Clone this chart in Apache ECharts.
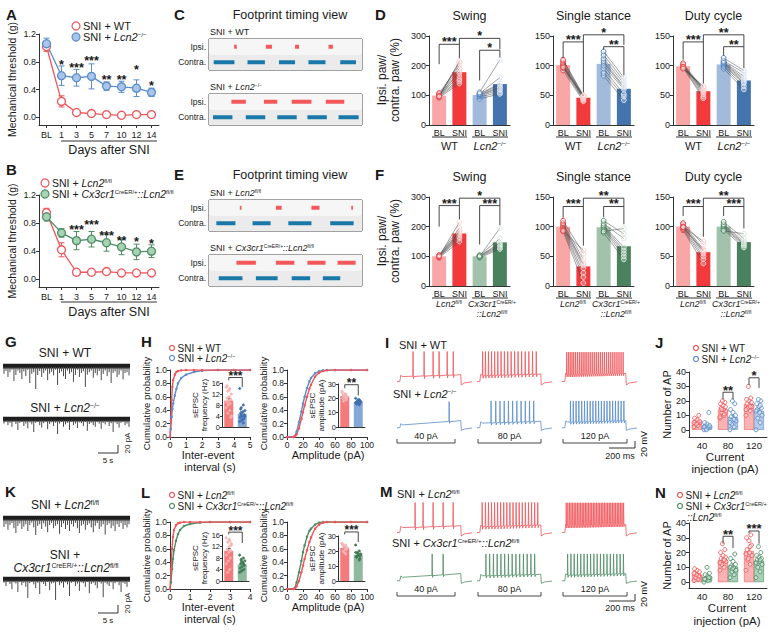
<!DOCTYPE html>
<html><head><meta charset="utf-8"><title>Figure</title>
<script src="https://cdn.jsdelivr.net/npm/echarts@6.0.0/dist/echarts.min.js"></script>
<style>html,body{margin:0;padding:0;background:#fff;}#chart{width:772px;height:635px;}</style>
</head><body><div id="chart"></div>
<script>
// ================= DATA =================
// Panel A / B : mechanical threshold (g)
const daysLabels = ['BL','1','3','5','7','10','12','14'];
const aWTMean = [1.02, 0.23, 0.07, 0.055, 0.04, 0.03, 0.04, 0.04];
const aWTSem  = [0.07, 0.08, 0.012, 0.01, 0.01, 0.01, 0.01, 0.01];
const aKOMean = [1.06, 0.60, 0.57, 0.59, 0.45, 0.44, 0.42, 0.36];
const aKOSem  = [0.08, 0.14, 0.12, 0.18, 0.06, 0.08, 0.12, 0.06];
const aStars  = ['', '*', '***', '***', '**', '**', '*', '*'];
const aStarY  = [0, 0.81, 0.76, 0.87, 0.59, 0.59, 0.74, 0.50];
const bFlMean = [0.95, 0.42, 0.10, 0.10, 0.11, 0.09, 0.09, 0.09];
const bFlSem  = [0.06, 0.10, 0.01, 0.01, 0.01, 0.01, 0.01, 0.01];
const bCxMean = [0.89, 0.66, 0.55, 0.57, 0.52, 0.46, 0.39, 0.40];
const bCxSem  = [0.06, 0.06, 0.13, 0.11, 0.12, 0.11, 0.11, 0.09];
const bStars  = ['', '', '***', '***', '***', '**', '*', '*'];
const bStarY  = [0, 0, 0.75, 0.82, 0.675, 0.60, 0.58, 0.56];

// Panel C / E : footprint timing [start, end] (arbitrary time units)
const cWTIpsi    = [[75,83],[170,188],[257,269],[357,370]];
const cWTContra  = [[14,76],[115,167],[209,257],[297,348],[392,439]];
const cKOIpsi    = [[67,110],[164,204],[247,306],[349,404]];
const cKOContra  = [[12,70],[110,168],[204,262],[294,352],[387,447]];
const eFlIpsi    = [[92,97],[200,217],[306,330],[425,430]];
const eFlContra  = [[22,79],[130,184],[237,306],[362,432]];
const eCxIpsi    = [[82,140],[200,255],[294,348],[384,438]];
const eCxContra  = [[29,100],[140,205],[247,302],[340,392]];

// Panel D / F : gait (% ipsi/contra)
const gaitCats = ['BL','SNI','BL','SNI'];
const dSwingMean  = [99,178,101,138];
const dSwingWTBL  = [92,95,97,99,100,101,104,108,98,96];
const dSwingWTSNI = [140,148,155,165,175,180,190,200,210,215];
const dSwingKOBL  = [88,95,98,100,102,104,105,106,110];
const dSwingKOSNI = [105,110,118,125,128,135,140,160,220];
const dSwingSig   = [[0,1,272,205,225],[1,3,292,272,255],[2,3,252,150,228]];
const dSwingStars = ['***','*','*'];
const dStanceMean  = [101,46,103,61];
const dStanceWTBL  = [92,96,98,100,101,103,105,108,110,97];
const dStanceWTSNI = [40,42,44,45,46,47,48,49,50,49];
const dStanceKOBL  = [83,88,95,100,105,108,112,118,124];
const dStanceKOSNI = [42,48,52,60,63,65,70,75,80];
const dStanceSig   = [[0,1,140,113,55],[1,3,152,140,135],[2,3,132,127,84]];
const dStanceStars = ['***','*','**'];
const dDutyMean  = [99,57,102,75];
const dDutyWTBL  = [96,98,99,100,101,102,104,97,98,95];
const dDutyWTSNI = [45,48,52,55,57,58,60,62,64,65];
const dDutyKOBL  = [95,98,100,102,104,105,106,108,113];
const dDutyKOSNI = [60,65,70,72,75,78,82,88,92];
const dDutySig   = [[0,1,140,110,70],[1,3,152,140,132],[2,3,132,117,96]];
const dDutyStars = ['***','**','**'];
const fSwingMean  = [100,177,100,147];
const fSwingFlBL  = [95,97,98,100,101,102,103,104,100];
const fSwingFlSNI = [150,160,165,170,175,180,185,195,215];
const fSwingCxBL  = [95,98,100,101,102,104,100];
const fSwingCxSNI = [125,130,135,140,145,160,195];
const fSwingSig   = [[0,1,271,200,225],[1,3,296,271,271],[2,3,271,140,205]];
const fSwingStars = ['***','*','***'];
const fStanceMean  = [100,33,99,67];
const fStanceFlBL  = [92,95,98,100,102,104,106,110,93];
const fStanceFlSNI = [5,15,22,30,35,38,45,55,60];
const fStanceCxBL  = [90,95,98,100,102,105,110,92];
const fStanceCxSNI = [45,50,55,60,65,80,88,97];
const fStanceSig   = [[0,1,134,115,68],[1,3,148,134,134],[2,3,134,116,104]];
const fStanceStars = ['***','**','**'];
const fDutyMean  = [100,57,100,74];
const fDutyFlBL  = [94,96,98,100,102,104,106,100,99];
const fDutyFlSNI = [38,45,50,55,58,62,70,75,60];
const fDutyCxBL  = [95,98,100,102,104,108,93];
const fDutyCxSNI = [65,68,70,72,75,80,88];
const fDutySig   = [[0,1,134,118,83],[1,3,148,134,134],[2,3,134,118,97]];
const fDutyStars = ['***','**','***'];

// Panel G / K : sEPSC event amplitudes (pA)
const gWTEvents = [22,15,30,18,12,40,25,14,20,35,16,28,12,45,22,18,60,25,15,30,20,14,38,22,17,26,12,50,20,16,28,35,14,22,18,42,25,12,30,20,16,55,24,18,14,32,20,26,15,38,22,14,28,18,45,20,16,30,24,14,36,20,18,26];
const gKOEvents = [14,10,18,12,22,9,15,30,12,10,20,14,26,11,16,35,12,10,18,24,13,9,28,15,11,20,12,40,14,10,22,16,12,30,10,18,14,25,11,13,20,10,32,15,12,18,22,10,14,27,12,16,10,20,13,35,11,15,24,12,10,18,14,22];
const kFlEvents = [25,18,32,20,15,28,40,22,16,30,24,18,35,20,14,26,45,22,18,30,16,24,38,20,15,28,22,18,42,25,16,30,20,35,18,24,15,28,40,22,18,32,20,16,26,38,22,15,30,24,18,44,20,16,28,22,35,18,25,15,30,20,26,18];
const kCxEvents = [12,20,10,15,28,11,14,35,10,18,12,22,50,13,10,16,25,12,40,11,15,20,10,30,14,12,55,10,18,13,24,11,16,45,12,10,20,14,32,11,13,22,10,38,15,12,18,26,10,14,48,12,16,20,11,28,13,10,18,35,12,15,22,10];

// Panel H / L : cumulative distributions and insets
const hIeiX  = [0,0.05,0.1,0.15,0.2,0.3,0.4,0.5,0.7,1,1.5,2,3,4,5];
const hIeiWT = [0,0.25,0.55,0.75,0.85,0.93,0.97,0.985,0.995,1,1,1,1,1,1];
const hIeiKO = [0,0.12,0.3,0.42,0.5,0.62,0.72,0.8,0.88,0.93,0.97,0.99,1,1,1];
const ampX   = [0,8,10,12,15,18,20,22,25,28,30,35,40,45,50,60,80,100];
const hAmpWT = [0,0,0.01,0.04,0.13,0.27,0.37,0.47,0.6,0.72,0.78,0.9,0.96,0.985,0.995,1,1,1];
const hAmpKO = [0,0,0.02,0.08,0.22,0.38,0.5,0.6,0.73,0.83,0.88,0.95,0.98,0.995,1,1,1,1];
const lIeiX  = [0,0.05,0.1,0.15,0.2,0.3,0.4,0.5,0.7,1,1.5,2,3,4];
const lIeiFl = [0,0.3,0.6,0.78,0.88,0.95,0.98,0.99,1,1,1,1,1,1];
const lIeiCx = [0,0.1,0.3,0.45,0.58,0.72,0.82,0.88,0.94,0.97,0.99,1,1,1];
const lAmpFl = [0,0,0.01,0.04,0.12,0.25,0.35,0.45,0.58,0.7,0.77,0.9,0.96,0.99,1,1,1,1];
const lAmpCx = [0,0,0.02,0.1,0.25,0.42,0.55,0.65,0.78,0.87,0.9,0.96,0.99,1,1,1,1,1];
const hFreqMean = [9.6,4.8], hFreqSem = [0.8,0.7];
const hFreqWT = [14.5,14,13,12,11,10.5,10,9.5,9,8.5,8,7,6,5,4,13.5,15,3.5];
const hFreqKO = [14,8,7,6,5.5,5,4.5,4,3.5,3,2.5,2,1.5,4.2,3.8,2.8,6.5];
const hAmpMean = [21.5,17.5], hAmpSem = [0.6,0.4];
const hAmpWTPts = [25,23,22,21,20,22,21,23,20,19,22,24,21,18];
const hAmpKOPts = [20,19,18,17.5,17,16,18,19,17,16.5,18,17,15.5];
const lFreqMean = [10.5,5.8], lFreqSem = [0.8,0.5];
const lFreqFl = [15,14,13.5,13,12,11,10.5,10,9,8,7,6,4,3,12.5,14.5];
const lFreqCx = [9,8,7.5,7,6.5,6,5.5,5,4.5,4,3.5,3,6,7];
const lAmpMean = [22,17.5], lAmpSem = [0.6,0.5];
const lAmpFlPts = [25,24,23,22,21,20,22,23,24,21,19,25,18];
const lAmpCxPts = [24,20,19,18,17,16,17,18,16,15,17,19,14];

// Panel I / M : action-potential traces (spike times, ms) and voltage levels (mV)
const apTimeMs = [0, 30, 680, 800];           // trace start, step on, step off, trace end
const apSteps = ['40 pA','80 pA','120 pA'];
const iWTSpikes = [[171,289,385,449,535,600],
  [60,90,122,155,188,222,257,292,328,364,401,438,476,514,553,592,632],
  [50,68,87,106,125,145,165,185,205,225,245,265,286,307,328,349,370,391,412,433,454,476,498,520,542,564,586,608,630,652]];
const iKOSpikes = [[556],
  [150,200,245,290,335,380,425,470,515,560,605],
  [90,120,150,180,210,240,270,300,330,360,390,420,450,480,510,540,570,600,630,660]];
const mFlSpikes = [[193,278,385,492,599],
  [55,90,122,155,187,220,252,285,318,351,384,417,450,483,516,549,582,615,648],
  [45,62,79,96,113,130,147,164,181,198,215,232,249,266,283,300,317,334,351,368,385,402,419,436,453,470,487,504,521,538,555,572,589,606,623,640,657]];
const mCxSpikes = [[375,492],
  [95,135,175,215,255,295,335,375,415,455,495,535,575,615],
  [60,95,130,165,200,235,270,305,340,375,410,445,480,515,550,585,620,655]];
// [rest, plateau start, plateau end, peak, AHP (rel.), post-step]
const iWTLevels = [[-72,-58,-52,15,-8,-82],[-72,-55,-50,15,-8,-82],[-72,-52,-48,13,-7,-82]];
const iKOLevels = [[-72,-64,-50,8,-6,-80],[-72,-58,-52,10,-7,-80],[-72,-55,-50,10,-7,-80]];
const mFlLevels = [[-72,-58,-52,15,-8,-82],[-72,-55,-50,15,-8,-82],[-72,-52,-48,14,-7,-82]];
const mCxLevels = [[-72,-62,-50,10,-6,-80],[-72,-57,-52,10,-7,-80],[-72,-55,-50,10,-7,-80]];

// Panel J / N : number of AP
const apCurrents = ['40','80','120'];
const jWTMean = [5.4,14,17.8], jWTSem = [0.6,0.9,1.2];
const jKOMean = [3,8.8,13],    jKOSem = [0.7,1.3,1.3];
const jWTPts = [[2,3,4,5,5,6,6,7,8,10,4,5],[8,10,12,13,14,15,16,17,18,19,20,9,11,14],[10,13,15,16,17,18,19,20,21,22,30,14,16]];
const jKOPts = [[0,1,1,2,2,3,3,4,5,12,0,2],[0,2,4,6,8,9,10,12,14,18,20,5,7],[0,5,8,10,12,14,15,16,18,20,21,13,17]];
const jSig = [[1,1,26,21,21],[2,2,36,31,29]], jStars = ['**','*'];
const nFlMean = [5,15,21],   nFlSem = [0.7,1.0,1.6];
const nCxMean = [3.5,10.5,14.5], nCxSem = [0.6,0.9,1.1];
const nFlPts = [[1,2,3,4,5,6,7,8,9,4,5,6],[8,10,12,14,15,16,17,18,20,22,26,13,15],[8,12,15,18,20,22,25,28,30,32,16,19,24]];
const nCxPts = [[0,1,2,3,4,5,6,10,2,3],[3,5,7,8,10,11,12,14,16,19,9,10],[3,7,10,12,14,15,16,17,18,20,24,13,15]];
const nSig = [[1,1,31,26,23],[2,2,34.6,33,26]], nStars = ['**','***'];

// ================= BUILD =================
const FONT = '"Liberation Sans", Arial, Helvetica, sans-serif';
const INK = '#1a1a1a';
const COL = {
  red:'#f0555a', blue:'#5a8dca', blueFill:'#a9c6ea', green:'#4f8d66', greenFill:'#a6d3b4',
  redBarBL:'#f8a6a6', redBarSNI:'#f2393c', blueBarBL:'#a3bbdb', blueBarSNI:'#4374ad',
  greenBarBL:'#a2c2ac', greenBarSNI:'#4a815f', fpRed:'#f4585a', fpBlue:'#1a78a8'
};
const grids=[], xAxes=[], yAxes=[], series=[], graphics=[];

function addGrid(left,top,width,height,box){
  grids.push(box?{left,top,width,height,show:true,borderColor:'#444',borderWidth:1,backgroundColor:'#fff'}:{left,top,width,height});
  return grids.length-1;
}
function R(sz){ const s=Math.round(sz*0.56*10)/10; return {
  i:{fontSize:sz,fontFamily:FONT,fontStyle:'italic'},
  s:{fontSize:s,fontFamily:FONT,verticalAlign:'top'},
  n:{fontSize:sz,fontFamily:FONT}
};}
function T(x,y,text,sz,o={}){
  const al=o.align||'left', va=o.va||'middle';
  const st={text, fill:o.color||INK, fontSize:sz, fontFamily:FONT, fontWeight:o.bold?'bold':'normal',
    fontStyle:o.italic?'italic':'normal', align:al, verticalAlign:va, textAlign:al, textVerticalAlign:va, rich:R(sz)};
  if(o.lh) st.lineHeight=o.lh;
  graphics.push({type:'text', x, y, rotation:o.rot||0, z:100, silent:true, style:st});
}
function Ln(x1,y1,x2,y2,c,w){ graphics.push({type:'line', silent:true, z:100, shape:{x1,y1,x2,y2}, style:{stroke:c||'#333', lineWidth:w||1}}); }
function Pl(points,c,w){ graphics.push({type:'polyline', silent:true, z:100, shape:{points}, style:{stroke:c||'#333', lineWidth:w||1, fill:null}}); }
function legendItem(cx,cy,r,stroke,fill,text,sz){
  graphics.push({type:'circle', silent:true, z:100, shape:{cx,cy,r}, style:{stroke, fill, lineWidth:1.2}});
  T(cx+r+3, cy, text, sz);
}
function catAxis(g,data,o={}){ return {gridIndex:g, type:'category', data, boundaryGap:true,
  axisLine:{show:o.line!==false, onZero:false, lineStyle:{color:'#333',width:1}},
  axisTick:{show:!!o.tick, alignWithLabel:true, interval:0, length:3, lineStyle:{color:'#333'}},
  axisLabel:{show:o.labels!==false, interval:0, hideOverlap:false, fontSize:o.fs||9, fontFamily:FONT, color:INK, margin:o.margin||4},
  splitLine:{show:false}, splitArea:{show:false}}; }
function valAxis(g,min,max,o={}){
  const ax={gridIndex:g, type:'value', min, max,
    axisLine:{show:true, onZero:false, lineStyle:{color:'#333',width:1}},
    axisTick:{show:true, length:o.tl||3, lineStyle:{color:'#333'}},
    axisLabel:{fontSize:o.fs||9, fontFamily:FONT, color:INK, margin:o.margin||3},
    splitLine:{show:false}};
  if(o.interval!=null) ax.interval=o.interval;
  if(o.custom){ ax.axisLabel.customValues=o.custom; ax.axisTick.customValues=o.custom; }
  if(o.fmt) ax.axisLabel.formatter=o.fmt;
  if(o.name){ ax.name=o.name; ax.nameLocation='middle'; ax.nameGap=o.nameGap; ax.nameTextStyle={fontSize:o.nfs||10, fontFamily:FONT, color:INK}; }
  return ax;
}
function hiddenAxes(g,xmin,xmax,ymin,ymax){
  xAxes.push({gridIndex:g,type:'value',min:xmin,max:xmax,show:false});
  yAxes.push({gridIndex:g,type:'value',min:ymin,max:ymax,show:false});
}
function txtStyle(text,size,bold,al,va){ return {text, fontSize:size, fontWeight:bold?'bold':'normal', fontFamily:FONT, fill:INK, align:al, verticalAlign:va, textAlign:al, textVerticalAlign:va}; }

function errSeries(g,means,sems,color,dx=0,cap=3,lw=1,upper=false){
  return {type:'custom', xAxisIndex:g, yAxisIndex:g, z:3, silent:true,
    data:means.map((m,i)=>[i, upper?m:m-sems[i], m+sems[i]]), encode:{x:0,y:[1,2]},
    renderItem:(p,api)=>{ const a=api.coord([api.value(0),api.value(1)]), b=api.coord([api.value(0),api.value(2)]); const x=a[0]+dx;
      return {type:'group', children:[
        {type:'line', shape:{x1:x,y1:a[1],x2:x,y2:b[1]}, style:{stroke:color,lineWidth:lw}},
        {type:'line', shape:{x1:x-cap,y1:a[1],x2:x+cap,y2:a[1]}, style:{stroke:upper?'transparent':color,lineWidth:lw}},
        {type:'line', shape:{x1:x-cap,y1:b[1],x2:x+cap,y2:b[1]}, style:{stroke:color,lineWidth:lw}}]}; }};
}
function lineSeries(g,vals,color,fill){ return {type:'line', xAxisIndex:g, yAxisIndex:g, data:vals, symbol:'circle', symbolSize:8, z:5, silent:true,
  itemStyle:{color:fill, borderColor:color, borderWidth:1.3}, lineStyle:{color, width:1.3}}; }
function textSeries(g,pts,texts,size){ return {type:'custom', xAxisIndex:g, yAxisIndex:g, z:6, silent:true, data:pts, encode:{x:0,y:1},
  renderItem:(p,api)=>{ const c=api.coord([api.value(0),api.value(1)]); return {type:'text', x:c[0], y:c[1]+size*0.3, style:txtStyle(texts[p.dataIndex],size,true,'center','middle')}; }}; }
function bracketSeries(g,sig,stars,dxL=0,dxR=0,size=12){
  return {type:'custom', xAxisIndex:g, yAxisIndex:g, z:6, silent:true, data:sig, encode:{x:[0,1],y:[2,3,4]},
    renderItem:(p,api)=>{ const i=api.value(0), j=api.value(1), top=api.value(2);
      const a=api.coord([i,api.value(3)]), b=api.coord([i,top]), d=api.coord([j,api.value(4)]);
      const xl=a[0]+dxL, xr=d[0]+dxR;
      return {type:'group', children:[
        {type:'polyline', shape:{points:[[xl,a[1]],[xl,b[1]],[xr,b[1]],[xr,d[1]]]}, style:{stroke:'#333',lineWidth:0.9,fill:null}},
        {type:'text', x:(xl+xr)/2, y:b[1]+4.5, style:txtStyle(stars[p.dataIndex],size,true,'center','bottom')}]}; }};
}
function pairSeries(g,x0,bl,sni,cBL,cSNI){
  return {type:'custom', xAxisIndex:g, yAxisIndex:g, z:4, silent:true, data:bl.map((v,k)=>[x0,v,sni[k]]), encode:{x:0,y:[1,2]},
    renderItem:(p,api)=>{ const x=api.value(0); const a=api.coord([x,api.value(1)]), b=api.coord([x+1,api.value(2)]);
      return {type:'group', children:[
        {type:'line', shape:{x1:a[0],y1:a[1],x2:b[0],y2:b[1]}, style:{stroke:'#444',lineWidth:0.5}},
        {type:'circle', shape:{cx:a[0],cy:a[1],r:2.4}, style:{stroke:cBL,fill:'rgba(255,255,255,0.5)',lineWidth:1}},
        {type:'circle', shape:{cx:b[0],cy:b[1],r:2.4}, style:{stroke:cSNI,fill:'rgba(255,255,255,0.25)',lineWidth:1}}]}; }};
}
function dotSeries(g,cat,vals,stroke,fill,dx,spread,r){
  return {type:'custom', xAxisIndex:g, yAxisIndex:g, z:4, silent:true, data:vals.map(v=>[cat,v]), encode:{x:0,y:1},
    renderItem:(p,api)=>{ const c=api.coord([api.value(0),api.value(1)]); const k=p.dataIndex; const j=((((k*7)%11)/10)-0.5)*2*spread;
      return {type:'circle', shape:{cx:c[0]+dx+j, cy:c[1], r}, style:{stroke, fill, lineWidth:0.9}}; }};
}
function fpSeries(g,row,segs,color,h){
  return {type:'custom', xAxisIndex:g, yAxisIndex:g, z:3, silent:true, data:segs.map(s=>[s[0],s[1],row]), encode:{x:[0,1],y:2},
    renderItem:(p,api)=>{ const a=api.coord([api.value(0),api.value(2)]), b=api.coord([api.value(1),api.value(2)]);
      return {type:'rect', shape:{x:a[0], y:a[1]-h/2, width:Math.max(1.5,b[0]-a[0]), height:h}, style:{fill:color}}; }};
}
function epscTrace(top, amps){
  const g=addGrid(3, top, 127, 34);
  hiddenAxes(g, -0.5, amps.length-0.5, -75, 10);
  series.push({type:'custom', xAxisIndex:g, yAxisIndex:g, z:2, silent:true, data:[[0, amps.length-1, 0]], encode:{x:[0,1],y:2},
    renderItem:(p,api)=>{ const a=api.coord([api.value(0)-0.5, 3]), b=api.coord([api.value(1)+0.5, -9]);
      return {type:'rect', shape:{x:a[0], y:a[1], width:b[0]-a[0], height:b[1]-a[1]}, style:{fill:'#1e1e1e'}}; }});
  series.push({type:'custom', xAxisIndex:g, yAxisIndex:g, z:3, silent:true, data:amps.map((a,i)=>[i,-a]), encode:{x:0,y:1},
    renderItem:(p,api)=>{ const a=api.coord([api.value(0),-5]), b=api.coord([api.value(0),api.value(1)]);
      return {type:'line', shape:{x1:a[0],y1:a[1],x2:b[0],y2:b[1]}, style:{stroke:'#4a4a4a',lineWidth:1}}; }});
}
function apSeries(g,spikes,lv,color){
  return {type:'custom', xAxisIndex:g, yAxisIndex:g, z:3, silent:true, data:[[apTimeMs[0], lv[0]]], encode:{x:0,y:1},
    renderItem:(p,api)=>{ const [t0,on,off,t1]=apTimeMs; const [rest,vs,ve,peak,ahp,post]=lv;
      const plat=t=>vs+(ve-vs)*(t-on)/(off-on);
      const first=spikes.length?spikes[0]-3:off;
      const pts=[[t0,rest],[on,rest]];
      if(on+10<first) pts.push([on+10,plat(on+10)+4]);
      if(on+30<first) pts.push([on+30,plat(on+30)]);
      spikes.forEach(t=>{ pts.push([t-3,plat(t-3)],[t,peak],[t+4,plat(t)+ahp],[t+9,plat(t+9)-1]); });
      pts.push([off,ve],[off+6,post],[off+40,rest-4],[t1,rest-1]);
      return {type:'polyline', shape:{points:pts.map(q=>api.coord(q))}, style:{stroke:color,lineWidth:0.8,fill:null}}; }};
}

// ---- Panel letters ----
[['A',6,7],['B',6,162],['C',174,7],['D',375,7],['E',174,167],['F',375,167],['G',5,334],['H',141,334],
 ['I',385,335],['J',655,335],['K',5,484],['L',141,485],['M',380,484],['N',655,485]].forEach(([t,x,y])=>T(x,y,t,15,{bold:true,va:'top'}));

// ---- A / B ----
function timePanel(top,height,m1,s1,m2,s2,stars,starY,c2,f2){
  const g=addGrid(39, top, 120, height);
  xAxes.push(catAxis(g, daysLabels, {tick:true, fs:9, margin:5}));
  yAxes.push(valAxis(g, -0.11, 1.2, {custom:[0,0.4,0.8,1.2], fmt:v=>v.toFixed(1), name:'Mechanical threshold (g)', nameGap:22, nfs:10.5}));
  series.push(errSeries(g,m1,s1,COL.red), errSeries(g,m2,s2,c2), lineSeries(g,m1,COL.red,'#fff'), lineSeries(g,m2,c2,f2),
    textSeries(g, starY.map((y,i)=>[i, y]), stars, 12.5));
}
timePanel(34, 91, aWTMean, aWTSem, aKOMean, aKOSem, aStars, aStarY, COL.blue, COL.blueFill);
Ln(61,141,157,141); T(109,150,'Days after SNI',12.5,{align:'center'});
legendItem(76,26,4,COL.red,'#fff','SNI + WT',11);
legendItem(76,37,4,COL.blue,COL.blueFill,'SNI + {i|Lcn2}{s|−/−}',11);
timePanel(195, 92, bFlMean, bFlSem, bCxMean, bCxSem, bStars, bStarY, COL.green, COL.greenFill);
Ln(61,302,157,302); T(109,312,'Days after SNI',12.5,{align:'center'});
legendItem(45,183,4,COL.red,'#fff','SNI + {i|Lcn2}{s|fl/fl}',10.5);
legendItem(45,194,4,COL.green,COL.greenFill,'SNI + {i|Cx3cr1}{s|CreER/+}{i|::Lcn2}{s|fl/fl}',10.5);

// ---- C / E ----
function footBox(top, ipsi, contra){
  const g=addGrid(209, top, 153, 31, true);
  xAxes.push({gridIndex:g, type:'value', min:0, max:457, show:false});
  yAxes.push({gridIndex:g, type:'category', data:['Contra.','Ipsi.'], axisLine:{show:false}, axisTick:{show:false},
    axisLabel:{fontSize:8.5, fontFamily:FONT, color:INK, margin:3}, splitLine:{show:false},
    splitArea:{show:true, areaStyle:{color:['#ebebeb','#f6f6f6']}}});
  series.push(fpSeries(g,1,ipsi,COL.fpRed,4), fpSeries(g,0,contra,COL.fpBlue,4));
}
T(290,15,'Footprint timing view',12.5,{align:'center'});
T(210,32,'SNI + WT',9); footBox(39, cWTIpsi, cWTContra);
T(210,87,'SNI + {i|Lcn2}{s|−/−}',9); footBox(94, cKOIpsi, cKOContra);
T(290,175,'Footprint timing view',12.5,{align:'center'});
T(210,193,'SNI + {i|Lcn2}{s|fl/fl}',9); footBox(200, eFlIpsi, eFlContra);
T(210,248,'SNI + {i|Cx3cr1}{s|CreER/+}{i|::Lcn2}{s|fl/fl}',9); footBox(255, eCxIpsi, eCxContra);

// ---- D / F ----
function gaitPanel(left,top,max,interval,means,barCols,ptCols,groups,sig,stars,title,titleY){
  const g=addGrid(left, top, 81, 89);
  xAxes.push(catAxis(g, gaitCats, {fs:9, margin:3}));
  yAxes.push(valAxis(g, 0, max, {interval, fs:9}));
  series.push({type:'bar', xAxisIndex:g, yAxisIndex:g, barWidth:14, z:2, silent:true,
    data:means.map((v,i)=>({value:v, itemStyle:{color:barCols[i]}}))});
  series.push(pairSeries(g,0,groups[0],groups[1],ptCols[0],ptCols[1]));
  series.push(pairSeries(g,2,groups[2],groups[3],ptCols[2],ptCols[3]));
  series.push(bracketSeries(g,sig,stars,0,0,12.5));
  T(left+40.5,titleY,title,12.5,{align:'center'});
}
const dBar=[COL.redBarBL,COL.redBarSNI,COL.blueBarBL,COL.blueBarSNI], dPt=['#e8474a','#ffd0d0','#4f84c4','#dbe7f7'];
const fBar=[COL.redBarBL,COL.redBarSNI,COL.greenBarBL,COL.greenBarSNI], fPt=['#e8474a','#ffd0d0','#4a8a60','#d7eadd'];
const gaitLefts=[429,553,673];
gaitPanel(429,36,300,100,dSwingMean,dBar,dPt,[dSwingWTBL,dSwingWTSNI,dSwingKOBL,dSwingKOSNI],dSwingSig,dSwingStars,'Swing',16);
gaitPanel(553,36,150,50,dStanceMean,dBar,dPt,[dStanceWTBL,dStanceWTSNI,dStanceKOBL,dStanceKOSNI],dStanceSig,dStanceStars,'Single stance',16);
gaitPanel(673,36,150,50,dDutyMean,dBar,dPt,[dDutyWTBL,dDutyWTSNI,dDutyKOBL,dDutyKOSNI],dDutySig,dDutyStars,'Duty cycle',16);
gaitPanel(429,197,300,100,fSwingMean,fBar,fPt,[fSwingFlBL,fSwingFlSNI,fSwingCxBL,fSwingCxSNI],fSwingSig,fSwingStars,'Swing',177);
gaitPanel(553,197,150,50,fStanceMean,fBar,fPt,[fStanceFlBL,fStanceFlSNI,fStanceCxBL,fStanceCxSNI],fStanceSig,fStanceStars,'Single stance',177);
gaitPanel(673,197,150,50,fDutyMean,fBar,fPt,[fDutyFlBL,fDutyFlSNI,fDutyCxBL,fDutyCxSNI],fDutySig,fDutyStars,'Duty cycle',177);
gaitLefts.forEach(l=>{
  Ln(l+3,137,l+38,137); T(l+20.5,146,'WT',11,{align:'center'});
  Ln(l+43,137,l+79,137); T(l+61,146,'{i|Lcn2}{s|−/−}',11,{align:'center'});
  Ln(l+3,298,l+38,298); T(l+20,304,'{i|Lcn2}{s|fl/fl}',9,{align:'center'});
  Ln(l+43,298,l+79,298); T(l+63,304,'{i|Cx3cr1}{s|CreER/+}',9,{align:'center'}); T(l+63,314,'{i|::Lcn2}{s|fl/fl}',9,{align:'center'});
});
T(388,80,'Ipsi. paw/\ncontra. paw (%)',12,{rot:Math.PI/2,align:'center',lh:13});
T(388,241,'Ipsi. paw/\ncontra. paw (%)',12,{rot:Math.PI/2,align:'center',lh:13});

// ---- G / K ----
T(65,353,'SNI + WT',12,{align:'center'}); epscTrace(361, gWTEvents);
T(65,408,'SNI + {i|Lcn2}{s|−/−}',12,{align:'center'}); epscTrace(414, gKOEvents);
T(65,505,'SNI + {i|Lcn2}{s|fl/fl}',12,{align:'center'}); epscTrace(513, kFlEvents);
T(65,555,'SNI +',12,{align:'center'}); T(66,568,'{i|Cx3cr1}{s|CreER/+}{i|::Lcn2}{s|fl/fl}',12,{align:'center'}); epscTrace(574, kCxEvents);
[[453],[613]].forEach(([y])=>{ Pl([[98,y],[118,y],[118,y-8]],'#333',1); T(108,y+7,'5 s',8,{align:'center'}); T(127,y-10,'20 pA',8,{rot:Math.PI/2,align:'center'}); });

// ---- H / L ----
function cdfLine(g,xs,ys,color){ return {type:'line', xAxisIndex:g, yAxisIndex:g, silent:true, z:3, data:xs.map((x,i)=>[x,ys[i]]),
  symbol:'circle', symbolSize:2.5, showSymbol:true, itemStyle:{color}, lineStyle:{color,width:1.4}}; }
function cdfPanel(left,top,xmax,xInt,xs,yA,yB,cA,cB){
  const g=addGrid(left, top, 80, 67);
  xAxes.push(valAxis(g, 0, xmax, {interval:xInt, fs:8.5}));
  yAxes.push(valAxis(g, 0, 1, {interval:0.2, fs:8.5, fmt:v=>v.toFixed(1), name:'Cumulative probability', nameGap:19, nfs:9.5}));
  series.push(cdfLine(g,xs,yB,cB), cdfLine(g,xs,yA,cA));
}
function insetPanel(left,top,width,height,max,interval,means,sems,ptsA,ptsB,cols,sig,stars,nameText,nameX){
  const g=addGrid(left, top, width, height);
  xAxes.push(catAxis(g, ['a','b'], {labels:false}));
  yAxes.push(valAxis(g, 0, max, {interval, fs:7.5, tl:2, margin:2}));
  series.push({type:'bar', xAxisIndex:g, yAxisIndex:g, barWidth:9, z:2, silent:true, data:means.map((v,i)=>({value:v, itemStyle:{color:cols[i][0]}}))});
  series.push(errSeries(g,means,sems,'#333',0,2,0.8,true));
  series.push(dotSeries(g,0,ptsA,cols[0][1],cols[0][1],0,2.6,1.1), dotSeries(g,1,ptsB,cols[1][1],cols[1][1],0,2.6,1.1));
  series.push(bracketSeries(g,sig,stars,0,0,12));
  T(nameX, top+height/2, nameText, 8, {rot:Math.PI/2, align:'center', lh:9.5});
}
const inRed=['#f47a7c','#f7b3b4'], inBlue=['#85a8d6','#3e6fb0'], inGreen=['#8fb89c','#3f7d55'];
cdfPanel(170,370,5,1,hIeiX,hIeiWT,hIeiKO,COL.red,COL.blue);
insetPanel(222,383,27,44,16,4,hFreqMean,hFreqSem,hFreqWT,hFreqKO,[inRed,inBlue],[[0,1,18,17,14.5]],['***'],'sEPSC\nfrequency (Hz)',200);
cdfPanel(287,370,100,20,ampX,hAmpWT,hAmpKO,COL.red,COL.blue);
insetPanel(338,384,27,43,30,10,hAmpMean,hAmpSem,hAmpWTPts,hAmpKOPts,[inRed,inBlue],[[0,1,29.5,27,22]],['**'],'sEPSC\namplitude (pA)',317);
T(208,455,'Inter-event',11,{align:'center'}); T(210,467,'interval (s)',11,{align:'center'}); T(328,455,'Amplitude (pA)',11,{align:'center'});
legendItem(172,348,2.5,COL.red,'#fff','SNI + WT',10);
legendItem(172,358,2.5,COL.blue,'#fff','SNI + {i|Lcn2}{s|−/−}',10);
cdfPanel(170,522,4,1,lIeiX,lIeiFl,lIeiCx,COL.red,COL.green);
insetPanel(222,535,27,46,16,4,lFreqMean,lFreqSem,lFreqFl,lFreqCx,[inRed,inGreen],[[0,1,17,16.2,13.2]],['***'],'sEPSC\nfrequency (Hz)',200);
cdfPanel(287,522,100,20,ampX,lAmpFl,lAmpCx,COL.red,COL.green);
insetPanel(338,536,27,45,30,10,lAmpMean,lAmpSem,lAmpFlPts,lAmpCxPts,[inRed,inGreen],[[0,1,32.7,31,26]],['***'],'sEPSC\namplitude (pA)',317);
T(208,607,'Inter-event',11,{align:'center'}); T(210,619,'interval (s)',11,{align:'center'}); T(328,607,'Amplitude (pA)',11,{align:'center'});
legendItem(172,495,2.5,COL.red,'#fff','SNI + {i|Lcn2}{s|fl/fl}',10);
legendItem(172,506,2.5,COL.green,'#fff','SNI + {i|Cx3cr1}{s|CreER/+}{i|::Lcn2}{s|fl/fl}',10);

// ---- I / M ----
const traceLefts=[397,477,562];
function apRow(top,height,spk,lvs,color){
  traceLefts.forEach((left,k)=>{ const g=addGrid(left, top, 75, height); hiddenAxes(g, apTimeMs[0], apTimeMs[3], -85, 25); series.push(apSeries(g, spk[k], lvs[k], color)); });
}
function stepBrackets(y){
  [[397,455],[478,541],[563,627]].forEach((b,k)=>{ Pl([[b[0],y-4],[b[0],y],[b[1],y],[b[1],y-4]],'#333',0.9); T((b[0]+b[1])/2,y-7,apSteps[k],9,{align:'center'}); });
}
T(399,345,'SNI + WT',11); apRow(348,38,iWTSpikes,iWTLevels,COL.red);
T(393,394,'SNI + {i|Lcn2}{s|−/−}',11); apRow(396,36,iKOSpikes,iKOLevels,COL.blue);
stepBrackets(443);
Pl([[609,448],[635,448],[635,441]],'#333',1); T(620,456,'200 ms',9,{align:'center'}); T(644,444,'20 mV',9,{rot:Math.PI/2,align:'center'});
T(397,494,'SNI + {i|Lcn2}{s|fl/fl}',11); apRow(499,38,mFlSpikes,mFlLevels,COL.red);
T(392,543,'SNI + {i|Cx3cr1}{s|CreER/+}{i|::Lcn2}{s|fl/fl}',11); apRow(549,36,mCxSpikes,mCxLevels,COL.green);
stepBrackets(596);
Pl([[609,601],[635,601],[635,594]],'#333',1); T(620,608,'200 ms',9,{align:'center'}); T(644,594,'20 mV',9,{rot:Math.PI/2,align:'center'});

// ---- J / N ----
function apCountPanel(top,height,min,mA,sA,pA,mB,sB,pB,cA,cB,sig,stars){
  const g=addGrid(689, top, 78, height);
  xAxes.push(catAxis(g, apCurrents, {fs:9.5, margin:3}));
  yAxes.push(valAxis(g, min, 40, {custom:[0,10,20,30,40], fs:9, name:'Number of AP', nameGap:15, nfs:11}));
  series.push({type:'bar', xAxisIndex:g, yAxisIndex:g, barWidth:10, barGap:'0%', z:2, silent:true, data:mA, itemStyle:{color:cA[0], borderColor:cA[1], borderWidth:0.6}});
  series.push({type:'bar', xAxisIndex:g, yAxisIndex:g, barWidth:10, barGap:'0%', z:2, silent:true, data:mB, itemStyle:{color:cB[0], borderColor:cB[1], borderWidth:0.6}});
  series.push(errSeries(g,mA,sA,cA[1],-5,2,0.8,true), errSeries(g,mB,sB,cB[1],5,2,0.8,true));
  pA.forEach((vals,k)=>series.push(dotSeries(g,k,vals,cA[1],'rgba(255,255,255,0.4)',-5,3,2)));
  pB.forEach((vals,k)=>series.push(dotSeries(g,k,vals,cB[1],'rgba(255,255,255,0.4)',5,3,2)));
  series.push(bracketSeries(g,sig,stars,-5,5,13));
}
apCountPanel(372,65,-5,jWTMean,jWTSem,jWTPts,jKOMean,jKOSem,jKOPts,['#f9b3b3','#f05a5e'],['#b5cbe8','#5a8dca'],jSig,jStars);
T(725,457,'Current',11.5,{align:'center'}); T(725,469,'injection (pA)',11.5,{align:'center'});
legendItem(696,348,2.5,COL.red,'#fff','SNI + WT',10);
legendItem(696,359,2.5,COL.blue,'#fff','SNI + {i|Lcn2}{s|−/−}',10);
apCountPanel(523,65,-4,nFlMean,nFlSem,nFlPts,nCxMean,nCxSem,nCxPts,['#f9b3b3','#f05a5e'],['#a9cfb6','#4f8d66'],nSig,nStars);
T(727,608,'Current',11.5,{align:'center'}); T(727,621,'injection (pA)',11.5,{align:'center'});
legendItem(680,495,2.5,COL.red,'#fff','SNI + {i|Lcn2}{s|fl/fl}',10);
legendItem(680,506,2.5,COL.green,'#fff','SNI + {i|Cx3cr1}{s|CreER/+}',10);
T(687,517,'{i|::Lcn2}{s|fl/fl}',10);

const chart = echarts.init(document.getElementById('chart'), null, {renderer:'svg'});
chart.setOption({animation:false, backgroundColor:'#fff', grid:grids, xAxis:xAxes, yAxis:yAxes, series, graphic:graphics});
</script></body></html>
